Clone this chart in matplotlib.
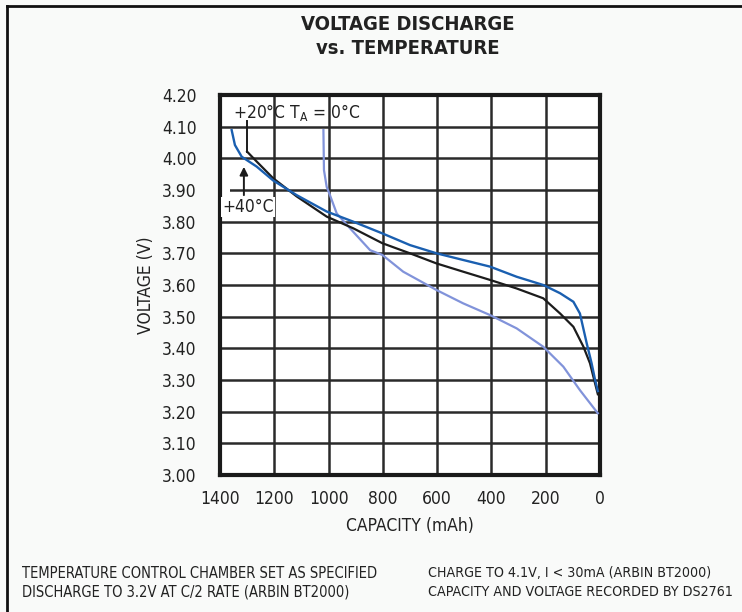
import numpy as np
import matplotlib
matplotlib.use("Agg")
import matplotlib.pyplot as plt
from matplotlib.patches import Rectangle

plt.rcParams['font.family'] = ['DejaVu Sans']
plt.rcParams['font.stretch'] = 'condensed'
plt.rcParams['mathtext.fontset'] = 'custom'
plt.rcParams['mathtext.rm'] = 'DejaVu Sans:stretch=condensed'

# curve data (capacity mAh, voltage V)
cap_40 = [1357, 1345, 1320, 1265, 1204, 1118, 1007, 909, 802, 700, 602, 504, 405, 307, 209, 147, 98, 74, 49, 31, 18, 8]
v_40 = [4.089, 4.042, 4.005, 3.974, 3.930, 3.884, 3.832, 3.800, 3.763, 3.726, 3.700, 3.679, 3.658, 3.626, 3.600, 3.574, 3.547, 3.510, 3.416, 3.353, 3.300, 3.265]

cap_20 = [1300, 1265, 1204, 1118, 1007, 909, 802, 700, 602, 504, 405, 307, 209, 147, 98, 61, 37, 8]
v_20 = [4.021, 3.990, 3.937, 3.880, 3.816, 3.779, 3.732, 3.700, 3.668, 3.642, 3.616, 3.589, 3.558, 3.510, 3.468, 3.405, 3.353, 3.255]

cap_0 = [1019, 1017, 1007, 995, 970, 921, 847, 802, 725, 602, 504, 405, 307, 209, 135, 74, 8]
v_0 = [4.089, 3.963, 3.910, 3.884, 3.826, 3.779, 3.710, 3.695, 3.642, 3.584, 3.542, 3.505, 3.463, 3.405, 3.342, 3.268, 3.195]

x_ticks = [1400, 1200, 1000, 800, 600, 400, 200, 0]
y_ticks = [3.00, 3.10, 3.20, 3.30, 3.40, 3.50, 3.60, 3.70, 3.80, 3.90, 4.00, 4.10, 4.20]

bg = '#f9faf9'
grid_col = '#2a2a2a'
txt = '#222222'

fig = plt.figure(figsize=(7.42, 6.12), dpi=100, facecolor=bg)
ax = fig.add_axes([220/742, 1-475/612, 380/742, 380/612])
ax.set_facecolor('white')

ax.set_xlim(1400, 0)
ax.set_ylim(3.0, 4.2)
ax.set_xticks(x_ticks)
ax.set_yticks(y_ticks)
ax.set_xticklabels([str(t) for t in x_ticks])
ax.set_yticklabels(['%.2f' % t for t in y_ticks])
ax.tick_params(length=0, labelsize=12.5, colors=txt)
ax.tick_params(axis='y', pad=17)
ax.tick_params(axis='x', pad=11)
ax.grid(True, color=grid_col, linewidth=1.8, zorder=1)
ax.set_axisbelow(True)
for s in ax.spines.values():
    s.set_linewidth(3)
    s.set_color('#1a1a1a')

ax.plot(cap_0, v_0, color='#8193da', linewidth=1.6, zorder=3)
ax.plot(cap_20, v_20, color='#1c1c1c', linewidth=1.6, zorder=4)
ax.plot(cap_40, v_40, color='#1a5fb0', linewidth=1.7, zorder=5)

ax.set_xlabel('CAPACITY (mAh)', fontsize=12.5, labelpad=6, color=txt)
ax.set_ylabel('VOLTAGE (V)', fontsize=12.5, labelpad=5, color=txt)

# labels on curves
ax.text(1352, 4.146, r'+20°C T$_\mathregular{A}$ = 0°C', fontsize=12.5, va='center', ha='left',
        color=txt, zorder=6)
ax.plot([1300, 1300], [4.118, 4.021], color='#1c1c1c', linewidth=1.4, zorder=6)

ax.add_patch(Rectangle((1362, 3.875), 100, 0.05, facecolor='white', edgecolor='none', zorder=2))
ax.text(1297, 3.846, '+40°C', fontsize=12.5, va='center', ha='center', color=txt, zorder=6,
        bbox=dict(facecolor='white', edgecolor='none', pad=1))
ax.annotate('', xy=(1312, 3.982), xytext=(1312, 3.875),
            arrowprops=dict(arrowstyle='-|>', color='#1c1c1c', lw=1.4, mutation_scale=12), zorder=7)

# title
fig.text(408/742, 1-25/612, 'VOLTAGE DISCHARGE', fontsize=14.5, fontweight='heavy', ha='center', va='center',
         color=txt)
fig.text(408/742, 1-48/612, 'vs. TEMPERATURE', fontsize=14.5, fontweight='heavy', ha='center', va='center',
         color=txt)

# footnotes
fig.text(22/742, 1-573/612, 'TEMPERATURE CONTROL CHAMBER SET AS SPECIFIED', fontsize=10.5, va='center', color=txt)
fig.text(22/742, 1-592/612, 'DISCHARGE TO 3.2V AT C/2 RATE (ARBIN BT2000)', fontsize=10.5, va='center', color=txt)
fig.text(428/742, 1-573/612, 'CHARGE TO 4.1V, I < 30mA (ARBIN BT2000)', fontsize=10.2, va='center', color=txt)
fig.text(428/742, 1-592/612, 'CAPACITY AND VOLTAGE RECORDED BY DS2761', fontsize=10.2, va='center', color=txt)

# outer frame (top and left edges visible)
fig.add_artist(plt.Line2D([7/742, 7/742], [0, 1-6/612], color='#111111', linewidth=2, transform=fig.transFigure))
fig.add_artist(plt.Line2D([7/742, 1], [1-6/612, 1-6/612], color='#111111', linewidth=2, transform=fig.transFigure))

fig.savefig('out.png', dpi=100, facecolor=bg)
